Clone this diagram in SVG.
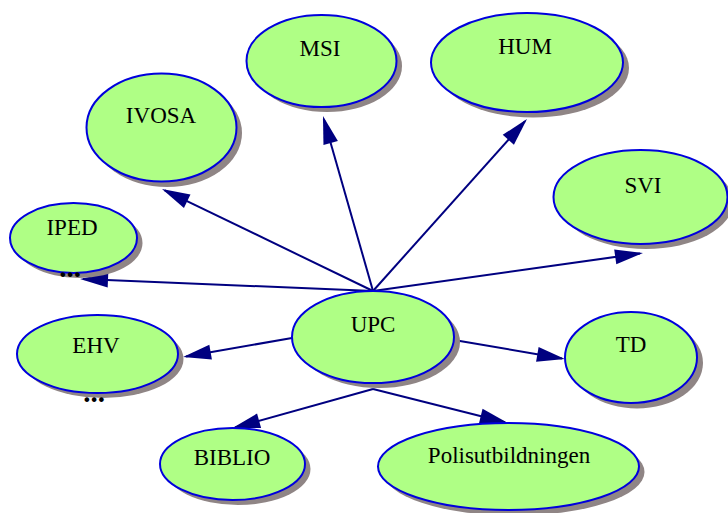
<svg xmlns="http://www.w3.org/2000/svg" width="728" height="513" viewBox="0 0 728 513">
<style>
.sh{fill:#8f8585;stroke:none}
.nd{fill:#afff85;stroke:#0000dd;stroke-width:2}
.lb{font-family:'Liberation Serif','Times New Roman','DejaVu Serif',serif;font-size:23px;fill:#000;text-anchor:middle}
.dots{font-family:'Liberation Serif','Times New Roman','DejaVu Serif',serif;font-size:29px;font-weight:bold;fill:#000;text-anchor:middle}
.ed{stroke:#000080;stroke-width:2;fill:none;marker-end:url(#ah)}
</style>
<defs>
<marker id="ah" markerUnits="userSpaceOnUse" markerWidth="30" markerHeight="16" refX="25" refY="7.5" orient="auto" overflow="visible">
<path d="M0,0 L28,7.5 L0,15 z" fill="#000080"/>
</marker>
</defs>
<rect width="728" height="513" fill="#fff"/>
<g id="edges">
<line class="ed" x1="373" y1="291" x2="164.7" y2="190.3"/>
<line class="ed" x1="373" y1="291" x2="323.8" y2="118.9"/>
<line class="ed" x1="373" y1="291" x2="525" y2="121.2"/>
<line class="ed" x1="373" y1="291" x2="640" y2="253.4"/>
<line class="ed" x1="373" y1="291" x2="83" y2="279.1"/>
<line class="ed" x1="292" y1="338" x2="186" y2="356.5"/>
<line class="ed" x1="454" y1="340" x2="562" y2="358.5"/>
<line class="ed" x1="373" y1="389" x2="235" y2="427.5"/>
<line class="ed" x1="373" y1="389" x2="505" y2="422.2"/>
</g>
<g id="UPC">
<ellipse class="sh" cx="379" cy="342" rx="81" ry="46"/>
<ellipse class="nd" cx="373" cy="337" rx="81" ry="46"/>
<text class="lb" x="373" y="332">UPC</text>
</g>
<g id="IVOSA">
<ellipse class="sh" cx="167" cy="133" rx="75" ry="54"/>
<ellipse class="nd" cx="161.5" cy="127.5" rx="75" ry="54"/>
<text class="lb" x="161" y="123">IVOSA</text>
</g>
<g id="MSI">
<ellipse class="sh" cx="327" cy="66" rx="75" ry="46"/>
<ellipse class="nd" cx="321.5" cy="61" rx="75" ry="46"/>
<text class="lb" x="320" y="56">MSI</text>
</g>
<g id="HUM">
<ellipse class="sh" cx="533" cy="68" rx="96" ry="49.5"/>
<ellipse class="nd" cx="527" cy="62.5" rx="96" ry="49.5"/>
<text class="lb" x="525" y="54">HUM</text>
</g>
<g id="SVI">
<ellipse class="sh" cx="646" cy="202" rx="87" ry="47"/>
<ellipse class="nd" cx="640.5" cy="197" rx="87" ry="47"/>
<text class="lb" x="643" y="193">SVI</text>
</g>
<g id="IPED">
<ellipse class="sh" cx="79" cy="243" rx="63.5" ry="35"/>
<ellipse class="nd" cx="73.5" cy="238" rx="63.5" ry="35"/>
<text class="lb" x="72" y="235">IPED</text>
<text class="dots" x="70" y="277">...</text>
</g>
<g id="EHV">
<ellipse class="sh" cx="103" cy="359" rx="80.5" ry="39"/>
<ellipse class="nd" cx="97.5" cy="354" rx="80.5" ry="39"/>
<text class="lb" x="96" y="353">EHV</text>
<text class="dots" x="94" y="402">...</text>
</g>
<g id="TD">
<ellipse class="sh" cx="637" cy="363" rx="66" ry="45.5"/>
<ellipse class="nd" cx="631" cy="357.5" rx="66" ry="45.5"/>
<text class="lb" x="631" y="352">TD</text>
</g>
<g id="BIBLIO">
<ellipse class="sh" cx="238" cy="469" rx="72.5" ry="36"/>
<ellipse class="nd" cx="232.5" cy="464" rx="72.5" ry="36"/>
<text class="lb" x="232" y="465">BIBLIO</text>
</g>
<g id="Polisutbildningen">
<ellipse class="sh" cx="514" cy="472" rx="130.5" ry="43.5"/>
<ellipse class="nd" cx="508.5" cy="466.5" rx="130.5" ry="43.5"/>
<text class="lb" x="509" y="463">Polisutbildningen</text>
</g>
</svg>
